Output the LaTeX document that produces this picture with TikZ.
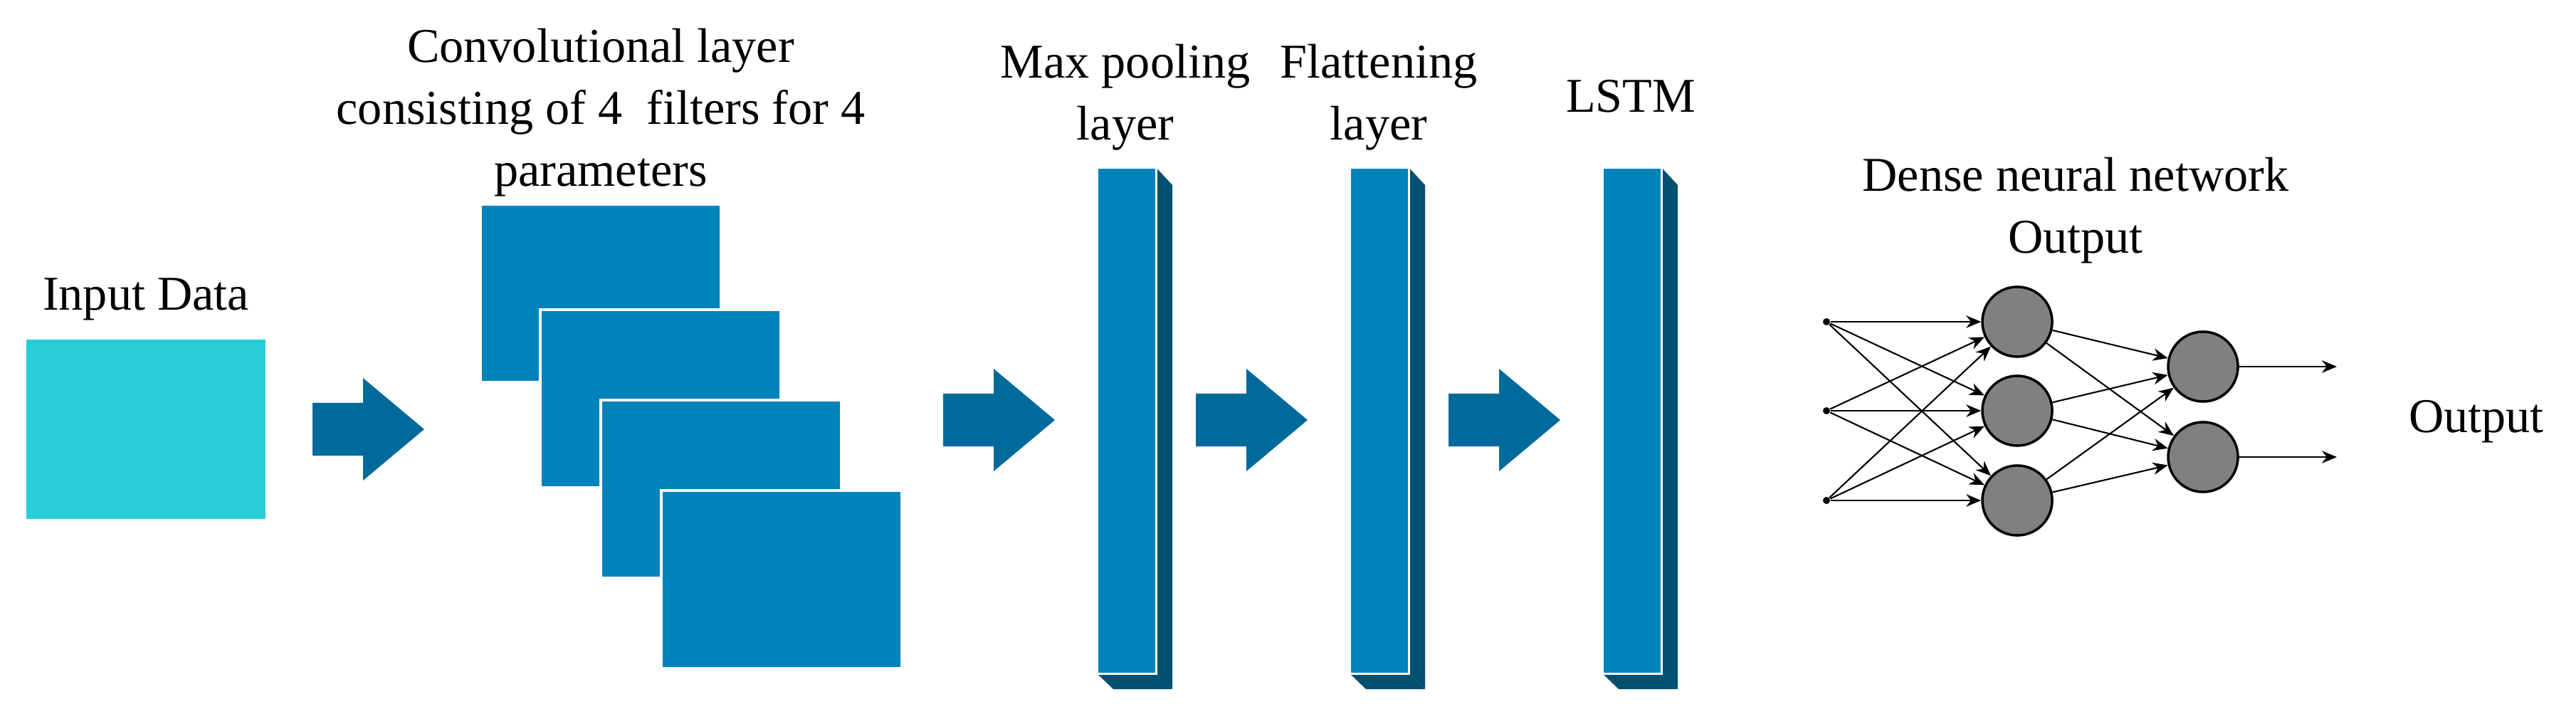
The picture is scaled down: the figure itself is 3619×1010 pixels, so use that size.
\documentclass[tikz,border=0pt]{standalone}
\usepackage{fontspec}
\setmainfont{Liberation Serif}
\usepackage{xcolor}
\usetikzlibrary{arrows.meta}

\definecolor{inputcyan}{HTML}{29CDD6}
\definecolor{convblue}{HTML}{0083BA}
\definecolor{arrowblue}{HTML}{006B9A}
\definecolor{sideblue}{HTML}{00506F}
\definecolor{neurongray}{HTML}{808080}

\tikzset{
  lbl/.style={font=\fontsize{19.4}{24.7}\selectfont, align=center, inner sep=0pt},
  fmap/.style={fill=convblue, draw=white, line width=1pt, inner sep=0pt, minimum width=3.38cm, minimum height=2.5cm},
  bar/.style={fill=convblue, draw=white, line width=0.8pt, inner sep=0pt, minimum width=0.83cm, minimum height=7.11cm},
  neuron/.style={circle, fill=neurongray, draw=black, line width=1pt, minimum size=0.98cm, inner sep=0pt},
  dot/.style={circle, fill=black, inner sep=0pt, minimum size=0.1cm},
  link/.style={-{Stealth[length=6pt,width=5pt]}, line width=0.6pt}
}

% block arrow: left end at (#1,#2)
\newcommand\blockarrow[2]{%
  \fill[arrowblue] (#1,#2+37) -- ++(71,0) -- ++(0,35) -- ++(86,-72)
    -- ++(-86,-72) -- ++(0,35) -- ++(-71,0) -- cycle;}

\begin{document}
\begin{tikzpicture}[x=0.01cm,y=-0.01cm]
\useasboundingbox (0,0) rectangle (3619,1010);

% Input
\node[fill=inputcyan, inner sep=0pt, minimum width=3.36cm, minimum height=2.51cm] (input) at (205,603) {};
\node[lbl] (inputlbl) at (205,420) {Input Data};

% Arrows
\blockarrow{439}{603}
\blockarrow{1325}{590}
\blockarrow{1680}{590}
\blockarrow{2035}{590}

% Convolutional feature maps
\node[fmap] (map1) at (844,412) {};
\node[fmap] (map2) at (928,560) {};
\node[fmap] (map3) at (1013,687) {};
\node[fmap] (map4) at (1098,814) {};
\node[lbl] (convlbl) at (844,158) {Convolutional layer\\consisting of 4~~filters for 4\\parameters};

% Layers as 3D bars
\foreach \x/\n in {1540/pool,1895/flat,2250/lstm}{
  \fill[sideblue] (\x+83,234) -- ++(24,26) -- ++(0,708) -- ++(-24,-23) -- cycle;
  \fill[sideblue] (\x,945) -- ++(83,0) -- ++(24,23) -- ++(-83,0) -- cycle;
  \node[bar, anchor=north west] (\n) at (\x,234) {};
}
\node[lbl] (poollbl) at (1581,137) {Max pooling\\layer};
\node[lbl] (flatlbl) at (1937,137) {Flattening\\layer};
\node[lbl] (lstmlbl) at (2291,135) {LSTM};

% Dense network
\foreach \i/\y in {1/452,2/577,3/703}{
  \node[dot] (in\i) at (2566,\y) {};
  \node[neuron] (h\i) at (2834,\y) {};
}
\node[neuron] (o1) at (3095,515) {};
\node[neuron] (o2) at (3095,642) {};
\coordinate (out1) at (3283,515);
\coordinate (out2) at (3283,642);

\foreach \i in {1,2,3}{
  \foreach \j in {1,2,3}{
    \draw[link] (in\i) -- (h\j);
  }
  \foreach \k in {1,2}{
    \draw[link] (h\i) -- (o\k);
  }
}
\draw[link] (o1) -- (out1);
\draw[link] (o2) -- (out2);

\node[lbl] (denselbl) at (2916,296) {Dense neural network\\Output};
\node[lbl] (outlbl) at (3479,592) {Output};
\end{tikzpicture}
\end{document}
